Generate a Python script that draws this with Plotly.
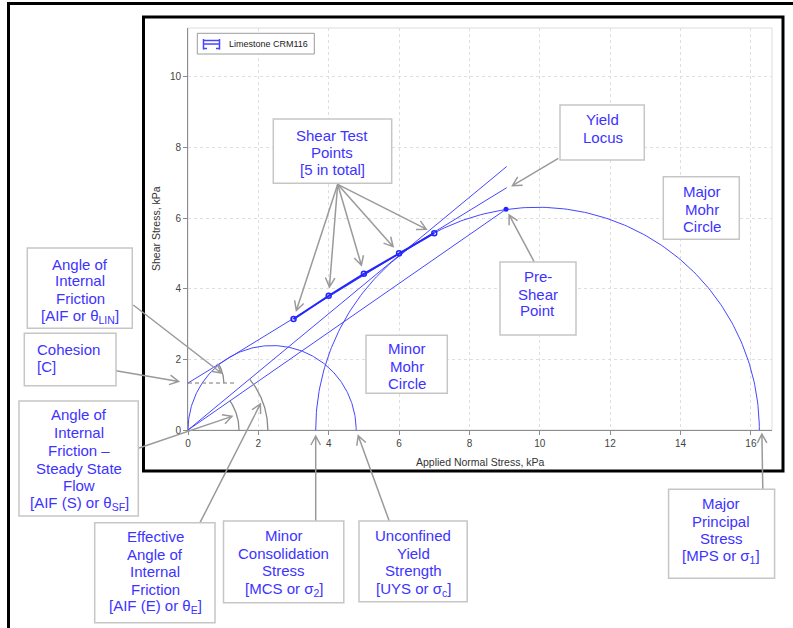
import numpy as np
import plotly.graph_objects as go

# ---------------- shear cell data (kPa) ----------------
test_sigma = [3.0, 4.0, 5.0, 6.0, 7.0]          # applied normal stress of shear tests
test_tau = [3.14, 3.80, 4.42, 5.00, 5.57]       # measured shear stress
preshear_sigma = [9.04]
preshear_tau = [6.25]

yield_locus_sigma = [0.0, 9.06]
yield_locus_tau = [1.33, 6.86]
effective_locus_sigma = [0.0, 9.06]
effective_locus_tau = [0.0, 7.46]
steady_flow_sigma = [0.0, 9.04]
steady_flow_tau = [0.0, 6.25]

cohesion = 1.33
minor_circle_ends = [0.0, 4.78]     # origin .. unconfined yield strength
major_circle_ends = [3.63, 16.24]   # sigma2 .. sigma1

# radii of the angle markers
aif_arc_r = 1.02
sf_arc_r = 1.45
eff_arc_r = 2.27

x_ticks = [0, 2, 4, 6, 8, 10, 12, 14, 16]
y_ticks = [0, 2, 4, 6, 8, 10]
x_max, y_max = 16.6, 11.38

# ---------------- page geometry ----------------
W, H = 793, 628
ML, MR, MT, MB = 188, 21, 28, 198
PW, PH = W - ML - MR, H - MT - MB

BLUE = "#4646ff"
BLUE_DARK = "#2424ff"
TEXT_BLUE = "#3d33ff"
GRAY = "#9a9a9a"
BOX_GRAY = "#c6c6c6"
FONT = "Arial, Liberation Sans, sans-serif"


def px(x):
    return ML + x * PW / x_max


def py(y):
    return H - MB - y * PH / y_max


def fx(p):
    return (p - ML) / PW


def fy(p):
    return (H - MB - p) / PH


def semicircle(ends, n=200):
    c = (ends[0] + ends[1]) / 2
    r = (ends[1] - ends[0]) / 2
    t = np.linspace(np.pi, 0, n)
    return c + r * np.cos(t), r * np.sin(t)


def arc(cx, cy, r, a0, a1, n=60):
    t = np.linspace(a0, a1, n)
    return cx + r * np.cos(t), cy + r * np.sin(t)


fig = go.Figure()

# Mohr circles
for ends in (minor_circle_ends, major_circle_ends):
    sx, sy = semicircle(ends)
    fig.add_trace(go.Scatter(x=sx, y=sy, mode="lines",
                             line=dict(color=BLUE, width=1), hoverinfo="skip"))

# loci
for xs, ys in ((yield_locus_sigma, yield_locus_tau),
               (effective_locus_sigma, effective_locus_tau),
               (steady_flow_sigma, steady_flow_tau)):
    fig.add_trace(go.Scatter(x=xs, y=ys, mode="lines",
                             line=dict(color=BLUE, width=1), hoverinfo="skip"))

# shear test points
fig.add_trace(go.Scatter(x=test_sigma, y=test_tau, mode="lines+markers",
                         name="Limestone CRM116",
                         line=dict(color=BLUE_DARK, width=2),
                         marker=dict(symbol="circle-open", size=5,
                                     color=BLUE_DARK, line=dict(width=1.5))))
fig.add_trace(go.Scatter(x=preshear_sigma, y=preshear_tau, mode="markers",
                         marker=dict(symbol="circle", size=5, color=BLUE_DARK)))

# cohesion marker line
fig.add_trace(go.Scatter(x=[0, cohesion], y=[cohesion, cohesion], mode="lines",
                         line=dict(color="#777777", width=1, dash="4px,3px")))

# angle markers
slope_yl = (yield_locus_tau[1] - yield_locus_tau[0]) / (yield_locus_sigma[1] - yield_locus_sigma[0])
ang_yl = np.arctan(slope_yl)
ang_sf = np.arctan2(steady_flow_tau[1], steady_flow_sigma[1])
ang_e = np.arctan2(effective_locus_tau[1], effective_locus_sigma[1])
for cx, cy, r, a in ((0, cohesion, aif_arc_r, ang_yl),
                     (0, 0, sf_arc_r, ang_sf),
                     (0, 0, eff_arc_r, ang_e)):
    ax_, ay_ = arc(cx, cy, r, 0, a)
    fig.add_trace(go.Scatter(x=ax_, y=ay_, mode="lines",
                             line=dict(color="#8a8a8a", width=1.3), hoverinfo="skip"))

shapes = []
annotations = []


def rect(x0, y0, x1, y1, color, width, fill=None, layer="above"):
    shapes.append(dict(type="rect", xref="paper", yref="paper",
                       x0=fx(x0), x1=fx(x1), y0=fy(y0), y1=fy(y1),
                       line=dict(color=color, width=width),
                       fillcolor=fill if fill else "rgba(0,0,0,0)", layer=layer))


def seg(x0, y0, x1, y1, color, width):
    shapes.append(dict(type="line", xref="paper", yref="paper",
                       x0=fx(x0), x1=fx(x1), y0=fy(y0), y1=fy(y1),
                       line=dict(color=color, width=width), layer="above"))


def arrow(tail, target, gap=0.0):
    tx, ty = tail
    gx, gy = target
    dx, dy = gx - tx, gy - ty
    d = np.hypot(dx, dy)
    ux, uy = dx / d, dy / d
    hx, hy = gx - gap * ux, gy - gap * uy
    L, s = 9.0, 4.8
    bx, by = hx - L * ux, hy - L * uy
    p1 = (bx - s * uy, by + s * ux)
    p2 = (bx + s * uy, by - s * ux)
    path = (f"M{fx(tx)},{fy(ty)} L{fx(hx)},{fy(hy)} "
            f"M{fx(p1[0])},{fy(p1[1])} L{fx(hx)},{fy(hy)} L{fx(p2[0])},{fy(p2[1])}")
    shapes.append(dict(type="path", xref="paper", yref="paper", path=path,
                       line=dict(color=GRAY, width=1.5), layer="above"))


def label_box(box, cx, lines, ys, anchor="center", size=15):
    rect(*box, BOX_GRAY, 1.5, fill="white")
    for t, yy in zip(lines, ys):
        annotations.append(dict(xref="paper", yref="paper", x=fx(cx), y=fy(yy),
                                text=t, showarrow=False, xanchor=anchor,
                                yanchor="middle",
                                font=dict(family=FONT, size=size, color=TEXT_BLUE)))


# outer page frame and chart frame
seg(7, 3.5, W, 3.5, "black", 3)
seg(8.5, 3, 8.5, H, "black", 3)
rect(143.5, 17, 783, 471, "black", 3)
# light plot-area border
rect(ML, MT, ML + PW, MT + PH, "#dddddd", 1, layer="below")

# arrows from labels to features
shear_tail = (337.7, 184.3)
for s, t in zip(test_sigma, test_tau):
    arrow(shear_tail, (px(s), py(t)), gap=9)
arrow((558.3, 158.3), (px(yield_locus_sigma[1]) + 4, py(yield_locus_tau[1]) - 1), gap=2)
arrow((534.3, 262), (px(preshear_sigma[0]), py(preshear_tau[0])), gap=6.5)
mid = ang_yl * 0.45
arrow((133.3, 305), (px(aif_arc_r * np.cos(mid)), py(cohesion + aif_arc_r * np.sin(mid))), gap=2)
arrow((116, 370.7), (px(0), py(cohesion)), gap=9.5)
mid = ang_sf * 0.5
arrow((138.3, 448.3), (px(sf_arc_r * np.cos(mid)), py(sf_arc_r * np.sin(mid))), gap=5)
mid = ang_e * 0.55
arrow((200, 522.7), (px(eff_arc_r * np.cos(mid)), py(eff_arc_r * np.sin(mid))), gap=4)
arrow((px(major_circle_ends[0]), 521), (px(major_circle_ends[0]), py(0)), gap=6)
arrow((389.2, 521), (px(minor_circle_ends[1]), py(0)), gap=6)
arrow((762.8, 489.3), (px(major_circle_ends[1]) + 2.5, py(0)), gap=4)

# labelled boxes
label_box((273.3, 119, 391.7, 183.3), 332.3,
          ["Shear Test", "Points", "[5 in total]"], [135, 152, 169.3])
label_box((560, 105, 644.3, 160), 602.7, ["Yield", "Locus"], [120, 137.3])
label_box((663.3, 176.7, 739.3, 239.3), 701.7,
          ["Major", "Mohr", "Circle"], [191.7, 209, 226.7])
label_box((500, 262, 576, 335), 537.7, ["Pre-", "Shear", "Point"], [276, 294, 310.7])
label_box((366, 335.3, 447.3, 393.3), 406.7,
          ["Minor", "Mohr", "Circle"], [348.3, 366.7, 383.3])
label_box((27.3, 248, 132.3, 328.3), 80,
          ["Angle of", "Internal", "Friction", "[AIF or θ<sub>LIN</sub>]"],
          [264, 280.7, 298.3, 316])
label_box((24.3, 333.3, 116, 385.7), 35, ["Cohesion", "[C]"], [349, 366.7], anchor="left")
label_box((19, 401, 138.3, 516), 79,
          ["Angle of", "Internal", "Friction –", "Steady State", "Flow",
           "[AIF (S) or θ<sub>SF</sub>]"],
          [414, 432.7, 450, 468.3, 485, 503.3])
label_box((94.7, 522.7, 215, 622.7), 155,
          ["Effective", "Angle of", "Internal", "Friction", "[AIF (E) or θ<sub>E</sub>]"],
          [536.7, 554, 571.7, 589.3, 606.7])
label_box((223.5, 521, 343.8, 602.7), 283.8,
          ["Minor", "Consolidation", "Stress", "[MCS or σ<sub>2</sub>]"],
          [535.7, 553.7, 570.7, 589])
label_box((359, 521, 467.2, 601.7), 413.3,
          ["Unconfined", "Yield", "Strength", "[UYS or σ<sub>c</sub>]"],
          [535.7, 553.7, 570.7, 589])
label_box((668.6, 489.3, 774.6, 578.3), 721.4,
          ["Major", "Principal", "Stress", "[MPS or σ<sub>1</sub>]"],
          [503.3, 521, 538.3, 556.7])

# legend
rect(197.3, 33.3, 314.3, 54, "#9c9c9c", 1, fill="white")
seg(203, 44, 220, 44, BLUE, 1.5)
seg(203, 40.5, 220, 40.5, BLUE, 1.5)
seg(203.5, 39, 203.5, 49.5, BLUE, 1.5)
seg(219.5, 39, 219.5, 49.5, BLUE, 1.5)
seg(203, 48.5, 207, 48.5, BLUE, 1.5)
seg(216, 48.5, 220, 48.5, BLUE, 1.5)
annotations.append(dict(xref="paper", yref="paper", x=fx(226.5), y=fy(44),
                        text="Limestone CRM116", showarrow=False,
                        xanchor="left", yanchor="middle",
                        font=dict(family=FONT, size=9, color="#222222")))

# axis titles
annotations.append(dict(xref="paper", yref="paper", x=0.5, y=fy(462),
                        text="Applied Normal Stress, kPa", showarrow=False,
                        xanchor="center", yanchor="middle",
                        font=dict(family=FONT, size=10.5, color="#333333")))
annotations.append(dict(xref="paper", yref="paper", x=fx(156), y=0.5,
                        text="Shear Stress, kPa", showarrow=False, textangle=-90,
                        xanchor="center", yanchor="middle",
                        font=dict(family=FONT, size=10.5, color="#333333")))

axis_common = dict(showline=True, linecolor="#8c8c8c", linewidth=1,
                   ticks="outside", ticklen=4, tickcolor="#8c8c8c",
                   showgrid=True, gridcolor="#dedede", griddash="3px,3px",
                   zeroline=False, automargin=False,
                   tickfont=dict(family=FONT, size=10, color="#444444"))

fig.update_layout(
    width=W, height=H, template="none",
    margin=dict(l=ML, r=MR, t=MT, b=MB, pad=0),
    paper_bgcolor="white", plot_bgcolor="white",
    showlegend=False,
    xaxis=dict(range=[0, x_max], tickvals=x_ticks, **axis_common),
    yaxis=dict(range=[0, y_max], tickvals=y_ticks, **axis_common),
    shapes=shapes, annotations=annotations,
)

fig.write_html("out.html")
